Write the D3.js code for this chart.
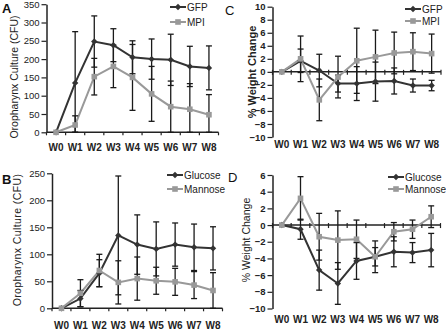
<!DOCTYPE html>
<html>
<head>
<meta charset="utf-8">
<script src="https://cdn.jsdelivr.net/npm/d3@7"></script>
<style>
  body { margin: 0; background: #fff; }
  svg { display: block; font-family: "Liberation Sans", Arial, sans-serif; }
</style>
</head>
<body>
<svg id="chart" width="446" height="330"></svg>
<script>
const weeks = ["W0", "W1", "W2", "W3", "W4", "W5", "W6", "W7", "W8"]

// A - oropharynx culture, GFP vs MPI
const gfpCfu = [0, 135, 248, 238, 205, 200, 198, 180, 176]
const gfpCfuErr = [0, 140, 70, 45, 45, 55, 70, 55, 60]
const mpiCfu = [0, 20, 152, 180, 150, 105, 70, 63, 48]
const mpiCfuErr = [0, 25, 50, 58, 90, 75, 70, 70, 55]

// B - oropharynx culture, glucose vs mannose
const glucoseCfu = [0, 18, 65, 135, 118, 110, 118, 113, 111]
const glucoseCfuErr = [0, 15, 25, 110, 55, 50, 40, 43, 40]
const mannoseCfu = [0, 28, 70, 48, 55, 51, 49, 43, 33]
const mannoseCfuErr = [0, 25, 30, 40, 40, 25, 25, 25, 33]

// C - weight change, GFP vs MPI
const gfpWeight = [0, 1.7, 0.2, -1.8, -1.8, -1.5, -1.4, -2.1, -2.1]
const gfpWeightErr = [0, 1.8, 2.5, 1.3, 2.6, 3.0, 2.0, 1.0, 0.8]
const mpiWeight = [0, 2.0, -4.3, -0.8, 1.7, 2.3, 2.9, 3.1, 2.8]
const mpiWeightErr = [0, 3.5, 3.2, 3.2, 5.0, 4.1, 3.2, 2.9, 3.0]

// D - weight change, glucose vs mannose
const glucoseWeight = [0, -0.5, -5.4, -7.0, -4.3, -3.8, -3.2, -3.3, -3.0]
const glucoseWeightErr = [0, 1.2, 2.4, 2.5, 2.2, 1.1, 1.8, 1.2, 2.0]
const mannoseWeight = [0, 3.2, -1.4, -1.8, -1.7, -3.8, -0.8, -0.5, 1.0]
const mannoseWeightErr = [0, 2.6, 2.8, 3.5, 2.3, 1.9, 1.1, 1.1, 1.3]

const darkCol = "#333"
const lightCol = "#999"
const errCol = "#1a1a1a"

const svg = d3.select("#chart")

function drawPanel(cfg) {
    const g = svg.append("g")

    const x = d3.scalePoint().domain(weeks).range(cfg.xr).padding(0.5)
    const y = d3.scaleLinear().domain(cfg.yd).range(cfg.yr)
    const step = x.step()
    const y0 = y(0)

    // y axis
    const yAxis = d3.axisLeft(y).tickValues(d3.range(cfg.yd[0], cfg.yd[1] + 0.001, cfg.ystep))
        .tickSize(5).tickPadding(2).tickSizeOuter(0)
    const ya = g.append("g").attr("transform", `translate(${cfg.xr[0]},0)`).call(yAxis)
    ya.select(".domain").attr("stroke", "#222").attr("stroke-width", 1.5)
    ya.selectAll(".tick line").attr("stroke", "#222").attr("stroke-width", 1.2)
    ya.selectAll("text").attr("font-size", 9.5).attr("fill", "#222").attr("font-weight", cfg.boldTicks ? "bold" : "normal")

    // x axis line at zero with ticks between categories
    g.append("line").attr("x1", cfg.xr[0]).attr("x2", cfg.xr[1])
        .attr("y1", y0).attr("y2", y0).attr("stroke", "#222").attr("stroke-width", 1.5)
    g.selectAll(".xt").data(d3.range(weeks.length + 1)).join("line")
        .attr("x1", i => cfg.xr[0] + i * step).attr("x2", i => cfg.xr[0] + i * step)
        .attr("y1", y0 - (cfg.crossTicks ? 2 : 0)).attr("y2", y0 + 3)
        .attr("stroke", "#222").attr("stroke-width", 1.2)
    g.selectAll(".xl").data(weeks).join("text")
        .attr("x", d => x(d)).attr("y", cfg.labelY)
        .attr("text-anchor", "middle").attr("font-size", 10).attr("font-weight", "bold")
        .attr("fill", "#222").text(d => d)

    const clampV = v => Math.max(cfg.yd[0], Math.min(cfg.yd[1], v))

    const line = d3.line().x((d, i) => x(weeks[i])).y(d => y(d))

    for (const s of cfg.series) {
        g.append("path").datum(s.values).attr("d", line)
            .attr("fill", "none").attr("stroke", s.color).attr("stroke-width", 2)
    }

    // error bars
    for (const s of cfg.series) {
        const eb = g.append("g")
        s.values.forEach((v, i) => {
            if (s.err[i] === 0) return
            const cx = x(weeks[i])
            const hi = y(clampV(v + s.err[i]))
            const lo = y(clampV(v - s.err[i]))
            eb.append("line").attr("x1", cx).attr("x2", cx).attr("y1", hi).attr("y2", lo)
                .attr("stroke", errCol).attr("stroke-width", 1.3)
            for (const yy of [hi, lo]) {
                eb.append("line").attr("x1", cx - 3).attr("x2", cx + 3).attr("y1", yy).attr("y2", yy)
                    .attr("stroke", errCol).attr("stroke-width", 1.3)
            }
        })
    }

    function marker(sel, s, cx, cy) {
        if (s.shape === "diamond") {
            sel.append("path").attr("d", `M${cx},${cy - 3.2}L${cx + 3.2},${cy}L${cx},${cy + 3.2}L${cx - 3.2},${cy}Z`)
                .attr("fill", s.color)
        } else {
            sel.append("rect").attr("x", cx - 2.8).attr("y", cy - 2.8).attr("width", 5.6).attr("height", 5.6)
                .attr("fill", s.color)
        }
    }

    for (const s of cfg.series) {
        const mg = g.append("g")
        s.values.forEach((v, i) => marker(mg, s, x(weeks[i]), y(v)))
    }

    // legend
    cfg.series.forEach((s, i) => {
        const ly = cfg.legend.y + i * cfg.legend.dy
        g.append("line").attr("x1", cfg.legend.x).attr("x2", cfg.legend.x + 16)
            .attr("y1", ly).attr("y2", ly).attr("stroke", s.color).attr("stroke-width", 2)
        marker(g, s, cfg.legend.x + 8, ly)
        g.append("text").attr("x", cfg.legend.x + 17).attr("y", ly + 3.5)
            .attr("font-size", 10).attr("fill", "#222").text(s.name)
    })

    // axis title
    g.append("text").attr("transform", `translate(${cfg.title.x},${cfg.title.y}) rotate(-90)`)
        .attr("text-anchor", "middle").attr("font-size", cfg.title.size)
        .attr("font-weight", cfg.title.bold ? "bold" : "normal")
        .attr("letter-spacing", cfg.title.spacing || 0)
        .attr("fill", "#222").text(cfg.title.text)

    // panel letter
    g.append("text").attr("x", cfg.letter.x).attr("y", cfg.letter.y)
        .attr("font-size", 13).attr("font-weight", cfg.letter.bold ? "bold" : "normal")
        .attr("fill", "#111").text(cfg.letter.text)
}

drawPanel({
    xr: [46.5, 218.5], yd: [0, 350], yr: [132.3, 4.2], ystep: 50, labelY: 151,
    series: [
        { name: "GFP", values: gfpCfu, err: gfpCfuErr, color: darkCol, shape: "diamond" },
        { name: "MPI", values: mpiCfu, err: mpiCfuErr, color: lightCol, shape: "square" }
    ],
    legend: { x: 170, y: 7, dy: 15 },
    title: { text: "Oropharynx Culture (CFU)", x: 18, y: 77, size: 10.5 },
    letter: { text: "A", x: 2, y: 13, bold: true }
})

drawPanel({
    xr: [52, 222.5], yd: [0, 250], yr: [308.3, 173.3], ystep: 50, labelY: 329,
    series: [
        { name: "Glucose", values: glucoseCfu, err: glucoseCfuErr, color: darkCol, shape: "diamond" },
        { name: "Mannose", values: mannoseCfu, err: mannoseCfuErr, color: lightCol, shape: "square" }
    ],
    legend: { x: 167, y: 175, dy: 14 },
    title: { text: "Oropharynx Culture (CFU)", x: 21, y: 240, size: 10.5, spacing: 0.4 },
    letter: { text: "B", x: 2, y: 184, bold: true }
})

drawPanel({
    xr: [272.5, 441], yd: [-10, 10], yr: [137, 6.7], ystep: 2, labelY: 148, crossTicks: true, boldTicks: true,
    series: [
        { name: "GFP", values: gfpWeight, err: gfpWeightErr, color: darkCol, shape: "diamond" },
        { name: "MPI", values: mpiWeight, err: mpiWeightErr, color: lightCol, shape: "square" }
    ],
    legend: { x: 405, y: 9, dy: 12 },
    title: { text: "% Weight Change", x: 256, y: 72, size: 11, bold: true },
    letter: { text: "C", x: 225, y: 15, bold: false }
})

drawPanel({
    xr: [272.5, 440.5], yd: [-10, 6], yr: [308.5, 175], ystep: 2, labelY: 323, crossTicks: true, boldTicks: true,
    series: [
        { name: "Glucose", values: glucoseWeight, err: glucoseWeightErr, color: darkCol, shape: "diamond" },
        { name: "Mannose", values: mannoseWeight, err: mannoseWeightErr, color: lightCol, shape: "square" }
    ],
    legend: { x: 388, y: 177, dy: 12 },
    title: { text: "% Weight Change", x: 250, y: 240, size: 10.5 },
    letter: { text: "D", x: 228, y: 182, bold: false }
})
</script>
</body>
</html>
